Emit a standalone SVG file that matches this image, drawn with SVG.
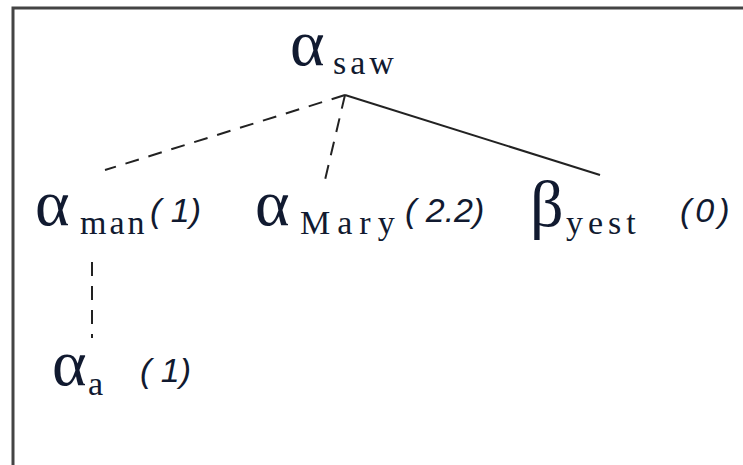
<svg xmlns="http://www.w3.org/2000/svg" width="743" height="465" viewBox="0 0 743 465">
<style>
.g{font-family:"Liberation Serif",serif;font-size:66px;fill:#111a30}
.s{font-family:"Liberation Serif",serif;font-size:34px;fill:#111a30;letter-spacing:3px}
.n{font-family:"Liberation Sans",sans-serif;font-style:italic;font-size:34px;fill:#111a30}
.e{stroke:#222;stroke-width:2;fill:none}
.d{stroke-dasharray:14,10}
</style>
<rect x="0" y="0" width="743" height="465" fill="#fff"/>
<path d="M13,465 V8 H743" stroke="#444" stroke-width="3" fill="none"/>
<g id="connectors">
<line class="e d" x1="345" y1="95" x2="105" y2="170"/>
<line class="e d" x1="345" y1="95" x2="325" y2="180"/>
<line class="e" x1="345" y1="95" x2="600" y2="175"/>
<line class="e d" x1="92" y1="262" x2="92" y2="338"/>
</g>
<g id="saw"><text x="290" y="65" class="g">α</text><text x="333" y="74" class="s" style="letter-spacing:4px">saw</text></g>
<g id="man"><text x="35" y="225" class="g">α</text><text x="80" y="234" class="s">man</text><text x="150" y="222" class="n">( 1)</text></g>
<g id="mary"><text x="255" y="225" class="g">α</text><text x="300" y="234" class="s" style="letter-spacing:7px">Mary</text><text x="405" y="222" class="n">( 2.2)</text></g>
<g id="yest"><text x="530" y="226" class="g">β</text><text x="566" y="234" class="s" style="letter-spacing:5px">yest</text><text x="680" y="222" class="n" style="letter-spacing:4px">(0)</text></g>
<g id="a"><text x="52" y="385" class="g">α</text><text x="88" y="395" class="s">a</text><text x="140" y="382" class="n">( 1)</text></g>
</svg>
